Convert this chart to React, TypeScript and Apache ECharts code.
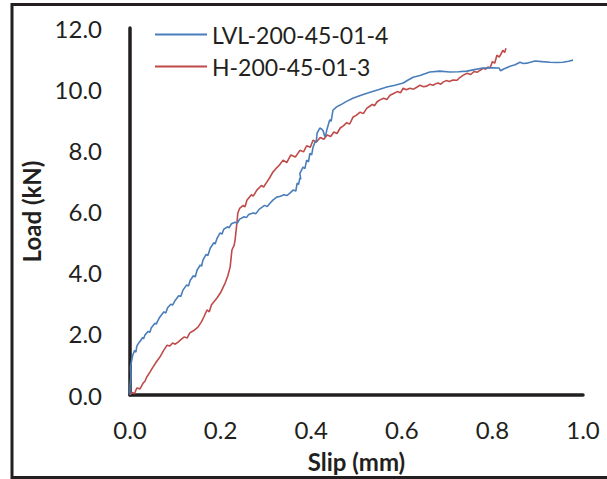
import React, { useEffect, useRef } from "react";
import * as echarts from "echarts";

const seriesNames = ["LVL-200-45-01-4", "H-200-45-01-3"];
const xTicks = [0, 0.2, 0.4, 0.6, 0.8, 1.0];
const yTicks = [0, 2, 4, 6, 8, 10, 12];

const lvlSlip = [0, 0.0, 0.002, 0.001, 0.004, 0.006, 0.01, 0.013, 0.015, 0.02, 0.022, 0.028, 0.03, 0.033, 0.04, 0.044, 0.047, 0.055, 0.058, 0.062, 0.066, 0.075, 0.079, 0.083, 0.09, 0.094, 0.1, 0.108, 0.112, 0.117, 0.125, 0.129, 0.133, 0.14, 0.144, 0.148, 0.155, 0.158, 0.161, 0.168, 0.172, 0.177, 0.185, 0.188, 0.192, 0.199, 0.203, 0.207, 0.215, 0.219, 0.224, 0.232, 0.237, 0.242, 0.252, 0.257, 0.262, 0.272, 0.278, 0.285, 0.297, 0.303, 0.309, 0.316, 0.324, 0.332, 0.34, 0.346, 0.353, 0.36, 0.366, 0.369, 0.372, 0.375, 0.377, 0.375, 0.382, 0.386, 0.39, 0.394, 0.397, 0.401, 0.404, 0.409, 0.411, 0.413, 0.419, 0.424, 0.426, 0.43, 0.432, 0.435, 0.441, 0.444, 0.448, 0.456, 0.464, 0.478, 0.492, 0.51, 0.53, 0.548, 0.567, 0.585, 0.603, 0.614, 0.625, 0.64, 0.662, 0.684, 0.706, 0.725, 0.744, 0.76, 0.779, 0.8, 0.815, 0.818, 0.825, 0.839, 0.85, 0.861, 0.868, 0.876, 0.894, 0.91, 0.927, 0.942, 0.956, 0.968, 0.978];
const lvlLoad = [0, 0.3, 0.6, 0.9, 1.15, 1.3, 1.45, 1.4, 1.6, 1.72, 1.75, 1.88, 1.84, 1.96, 2.08, 2.05, 2.2, 2.35, 2.32, 2.45, 2.55, 2.72, 2.68, 2.85, 2.97, 2.94, 3.1, 3.25, 3.22, 3.43, 3.6, 3.56, 3.75, 3.9, 3.86, 4.08, 4.25, 4.21, 4.41, 4.6, 4.56, 4.8, 4.98, 4.94, 5.12, 5.3, 5.26, 5.42, 5.5, 5.47, 5.6, 5.65, 5.62, 5.75, 5.83, 5.8, 5.9, 5.95, 5.93, 6.07, 6.2, 6.16, 6.27, 6.38, 6.47, 6.5, 6.55, 6.52, 6.6, 6.7, 6.67, 6.93, 6.88, 7.1, 7.05, 7.25, 7.45, 7.4, 7.68, 7.62, 7.9, 7.85, 8.1, 8.3, 8.25, 8.56, 8.73, 8.68, 8.65, 8.45, 8.5, 8.7, 9.0, 8.95, 9.31, 9.42, 9.48, 9.6, 9.7, 9.8, 9.9, 9.98, 10.07, 10.13, 10.2, 10.3, 10.39, 10.45, 10.56, 10.59, 10.56, 10.57, 10.59, 10.64, 10.69, 10.7, 10.69, 10.6, 10.66, 10.75, 10.8, 10.88, 10.84, 10.85, 10.92, 10.9, 10.88, 10.87, 10.88, 10.91, 10.95];

const hSlip = [0, 0.005, 0.01, 0.015, 0.022, 0.029, 0.033, 0.037, 0.044, 0.051, 0.058, 0.066, 0.074, 0.082, 0.088, 0.094, 0.1, 0.106, 0.113, 0.12, 0.126, 0.132, 0.14, 0.15, 0.158, 0.163, 0.17, 0.175, 0.18, 0.192, 0.2, 0.21, 0.216, 0.221, 0.223, 0.225, 0.23, 0.232, 0.234, 0.236, 0.238, 0.242, 0.25, 0.254, 0.258, 0.268, 0.272, 0.28, 0.29, 0.295, 0.302, 0.309, 0.315, 0.322, 0.33, 0.338, 0.346, 0.355, 0.365, 0.375, 0.383, 0.39, 0.398, 0.404, 0.412, 0.42, 0.428, 0.435, 0.443, 0.45, 0.457, 0.464, 0.471, 0.478, 0.485, 0.492, 0.5, 0.508, 0.515, 0.523, 0.53, 0.535, 0.54, 0.545, 0.552, 0.56, 0.567, 0.574, 0.582, 0.59, 0.597, 0.603, 0.61, 0.618, 0.626, 0.634, 0.64, 0.648, 0.655, 0.662, 0.669, 0.675, 0.68, 0.686, 0.691, 0.698, 0.705, 0.713, 0.722, 0.728, 0.735, 0.744, 0.752, 0.76, 0.766, 0.773, 0.78, 0.785, 0.79, 0.795, 0.8, 0.805, 0.81, 0.815, 0.819, 0.823, 0.827, 0.83];
const hLoad = [0, 0.08, 0.05, 0.23, 0.2, 0.39, 0.45, 0.59, 0.75, 0.92, 1.08, 1.24, 1.45, 1.63, 1.6, 1.7, 1.66, 1.73, 1.82, 1.9, 1.86, 2.03, 2.1, 2.22, 2.4, 2.55, 2.78, 2.72, 2.95, 3.17, 3.35, 3.66, 3.9, 4.18, 4.45, 4.74, 4.9, 5.07, 5.35, 5.62, 5.95, 6.1, 6.2, 6.15, 6.37, 6.55, 6.5, 6.7, 6.85, 6.8, 6.96, 7.12, 7.28, 7.4, 7.52, 7.68, 7.6, 7.85, 7.78, 8.0, 7.95, 8.15, 8.1, 8.33, 8.28, 8.42, 8.36, 8.5, 8.45, 8.6, 8.55, 8.73, 8.8, 8.9, 8.86, 9.08, 9.15, 9.25, 9.2, 9.38, 9.45, 9.5, 9.46, 9.58, 9.65, 9.7, 9.66, 9.8, 9.86, 9.92, 9.88, 10.03, 9.98, 10.03, 10.0, 10.07, 10.13, 10.08, 10.1, 10.16, 10.13, 10.18, 10.2, 10.16, 10.23, 10.28, 10.25, 10.3, 10.29, 10.38, 10.45, 10.52, 10.48, 10.58, 10.55, 10.62, 10.68, 10.65, 10.72, 10.7, 10.9, 10.85, 11.11, 11.05, 11.15, 11.27, 11.2, 11.34];

const pairs = (xs: number[], ys: number[]) => xs.map((x, i) => [x, ys[i]]);

export default function App() {
  const ref = useRef<HTMLDivElement>(null);
  useEffect(() => {
    if (!ref.current) return;
    const chart = echarts.init(ref.current, null, { renderer: "svg" });
    const font = "Lato";
    chart.setOption({
      animation: false,
      backgroundColor: "#ffffff",
      graphic: [
        {
          type: "rect",
          shape: { x: 12, y: 4.5, width: 700, height: 473 },
          style: { fill: "none", stroke: "#231f20", lineWidth: 3 },
          silent: true,
        },
      ],
      legend: {
        orient: "vertical",
        left: 150,
        top: 18,
        itemWidth: 52,
        itemHeight: 2,
        itemGap: 9,
        icon: "rect",
        textStyle: { fontFamily: font, fontSize: 23, color: "#231f20" },
        data: seriesNames,
      },
      grid: { left: 130, right: 24, top: 28, bottom: 84, containLabel: false },
      xAxis: {
        type: "value",
        min: xTicks[0],
        max: xTicks[xTicks.length - 1],
        interval: 0.2,
        name: "Slip (mm)",
        nameLocation: "middle",
        nameGap: 54,
        nameTextStyle: { fontFamily: font, fontSize: 24, fontWeight: "bold", color: "#231f20" },
        axisLine: { show: true, lineStyle: { color: "#231f20", width: 3.5 } },
        axisTick: { show: false },
        splitLine: { show: false },
        axisLabel: {
          margin: 22,
          fontFamily: font,
          fontSize: 24,
          color: "#231f20",
          formatter: (v: number) => v.toFixed(1),
        },
      },
      yAxis: {
        type: "value",
        min: yTicks[0],
        max: yTicks[yTicks.length - 1],
        interval: 2,
        name: "Load (kN)",
        nameLocation: "middle",
        nameGap: 85,
        nameRotate: 90,
        nameTextStyle: { fontFamily: font, fontSize: 24, fontWeight: "bold", color: "#231f20" },
        axisLine: { show: true, lineStyle: { color: "#231f20", width: 3.5 } },
        axisTick: { show: false },
        splitLine: { show: false },
        axisLabel: {
          margin: 28,
          fontFamily: font,
          fontSize: 24,
          color: "#231f20",
          formatter: (v: number) => v.toFixed(1),
        },
      },
      series: [
        {
          name: seriesNames[0],
          type: "line",
          data: pairs(lvlSlip, lvlLoad),
          showSymbol: false,
          symbol: "none",
          color: "#4a7ebb",
          lineStyle: { width: 1.6, color: "#4a7ebb" },
          z: 3,
        },
        {
          name: seriesNames[1],
          type: "line",
          data: pairs(hSlip, hLoad),
          showSymbol: false,
          symbol: "none",
          color: "#be4b48",
          lineStyle: { width: 1.6, color: "#be4b48" },
          z: 2,
        },
      ],
    });
    return () => chart.dispose();
  }, []);
  return (
    <div
      ref={ref}
      style={{ position: "absolute", left: 0, top: 0, width: 607, height: 479 }}
    />
  );
}
